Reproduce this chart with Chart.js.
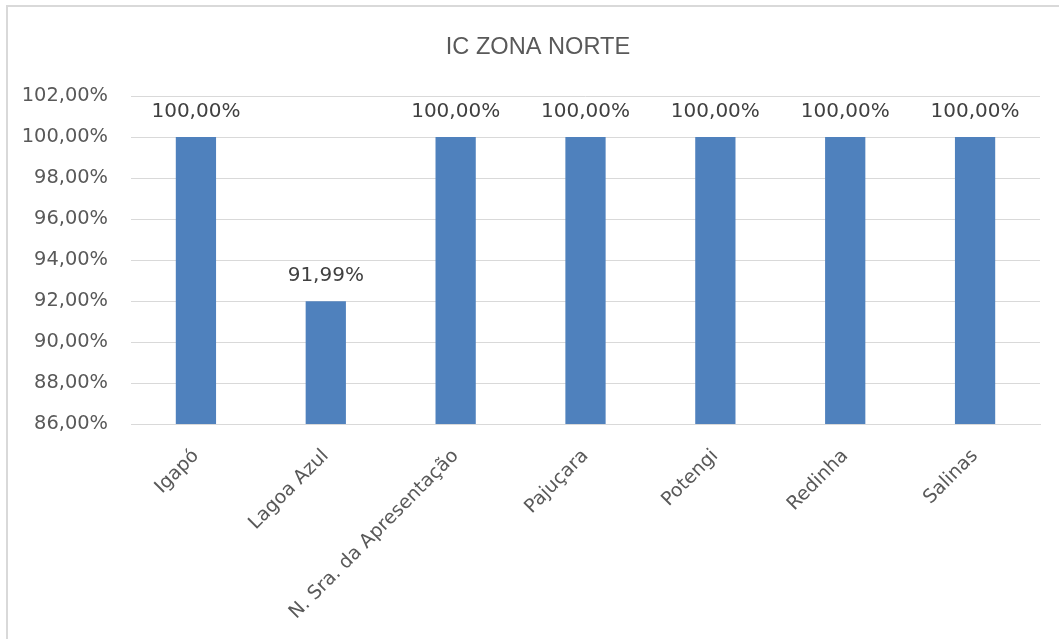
<!DOCTYPE html>
<html>
<head>
<meta charset="utf-8">
<script src="https://cdn.jsdelivr.net/npm/chart.js@4/dist/chart.umd.min.js"></script>
<style>
html,body{margin:0;padding:0;background:#fff;}
#wrap{position:absolute;left:0;top:0;width:1059px;height:639px;}
</style>
</head>
<body>
<div id="wrap"><canvas id="c" width="1059" height="639"></canvas></div>
<script>
const categories = ["Igapó", "Lagoa Azul", "N. Sra. da Apresentação", "Pajuçara", "Potengi", "Redinha", "Salinas"];
const values = [100, 91.99, 100, 100, 100, 100, 100];
const yMin = 86, yMax = 102, yStep = 2;
const titleText = "IC ZONA NORTE";

function fmt(v){ return v.toFixed(2).replace('.', ',') + '%'; }

const frame = {
  id: 'frame',
  beforeDraw(chart){
    const ctx = chart.ctx;
    ctx.save();
    ctx.fillStyle = '#fff';
    ctx.fillRect(0,0,chart.width,chart.height);
    ctx.fillStyle = '#d9d9d9';
    ctx.fillRect(6,5,chart.width-6,2);
    ctx.fillRect(6,5,2,chart.height-5);
    ctx.fillStyle = '#595959';
    ctx.font = '23.6px "Liberation Sans"';
    ctx.textAlign = 'center';
    ctx.textBaseline = 'middle';
    ctx.fillText(titleText, 538, 47);
    ctx.restore();
  }
};

const dataLabels = {
  id: 'dataLabels',
  afterDatasetsDraw(chart){
    const ctx = chart.ctx;
    const meta = chart.getDatasetMeta(0);
    ctx.save();
    ctx.font = '20px "DejaVu Sans"';
    ctx.fillStyle = '#404040';
    ctx.textAlign = 'center';
    ctx.textBaseline = 'alphabetic';
    meta.data.forEach((bar, i) => {
      ctx.fillText(fmt(values[i]), bar.x, bar.y - 20);
    });
    ctx.restore();
  }
};

new Chart(document.getElementById('c'), {
  type: 'bar',
  data: {
    labels: categories,
    datasets: [{
      data: values,
      backgroundColor: '#4f81bd',
      borderWidth: 0,
      barPercentage: 0.31,
      categoryPercentage: 1
    }]
  },
  options: {
    responsive: false,
    animation: false,
    devicePixelRatio: 1,
    layout: { padding: { left: 0, right: 19, top: 96, bottom: 0 } },
    plugins: {
      legend: { display: false },
      tooltip: { enabled: false },
      title: { display: false }
    },
    scales: {
      x: {
        grid: { display: false, drawTicks: false },
        border: { display: true, color: '#d9d9d9', width: 1 },
        ticks: {
          color: '#595959',
          font: { family: '"DejaVu Sans"', size: 19 },
          maxRotation: 45, minRotation: 45,
          padding: 21,
          autoSkip: false
        },
        afterFit(scale){ scale.height = 215; }
      },
      y: {
        min: yMin, max: yMax,
        grid: { color: '#d9d9d9', lineWidth: 1, drawTicks: false },
        border: { display: false },
        ticks: {
          stepSize: yStep,
          color: '#595959',
          font: { family: '"DejaVu Sans"', size: 19.4 },
          padding: 23,
          callback: v => fmt(v)
        },
        afterFit(scale){ scale.width = 131; }
      }
    }
  },
  plugins: [frame, dataLabels]
});
</script>
</body>
</html>
